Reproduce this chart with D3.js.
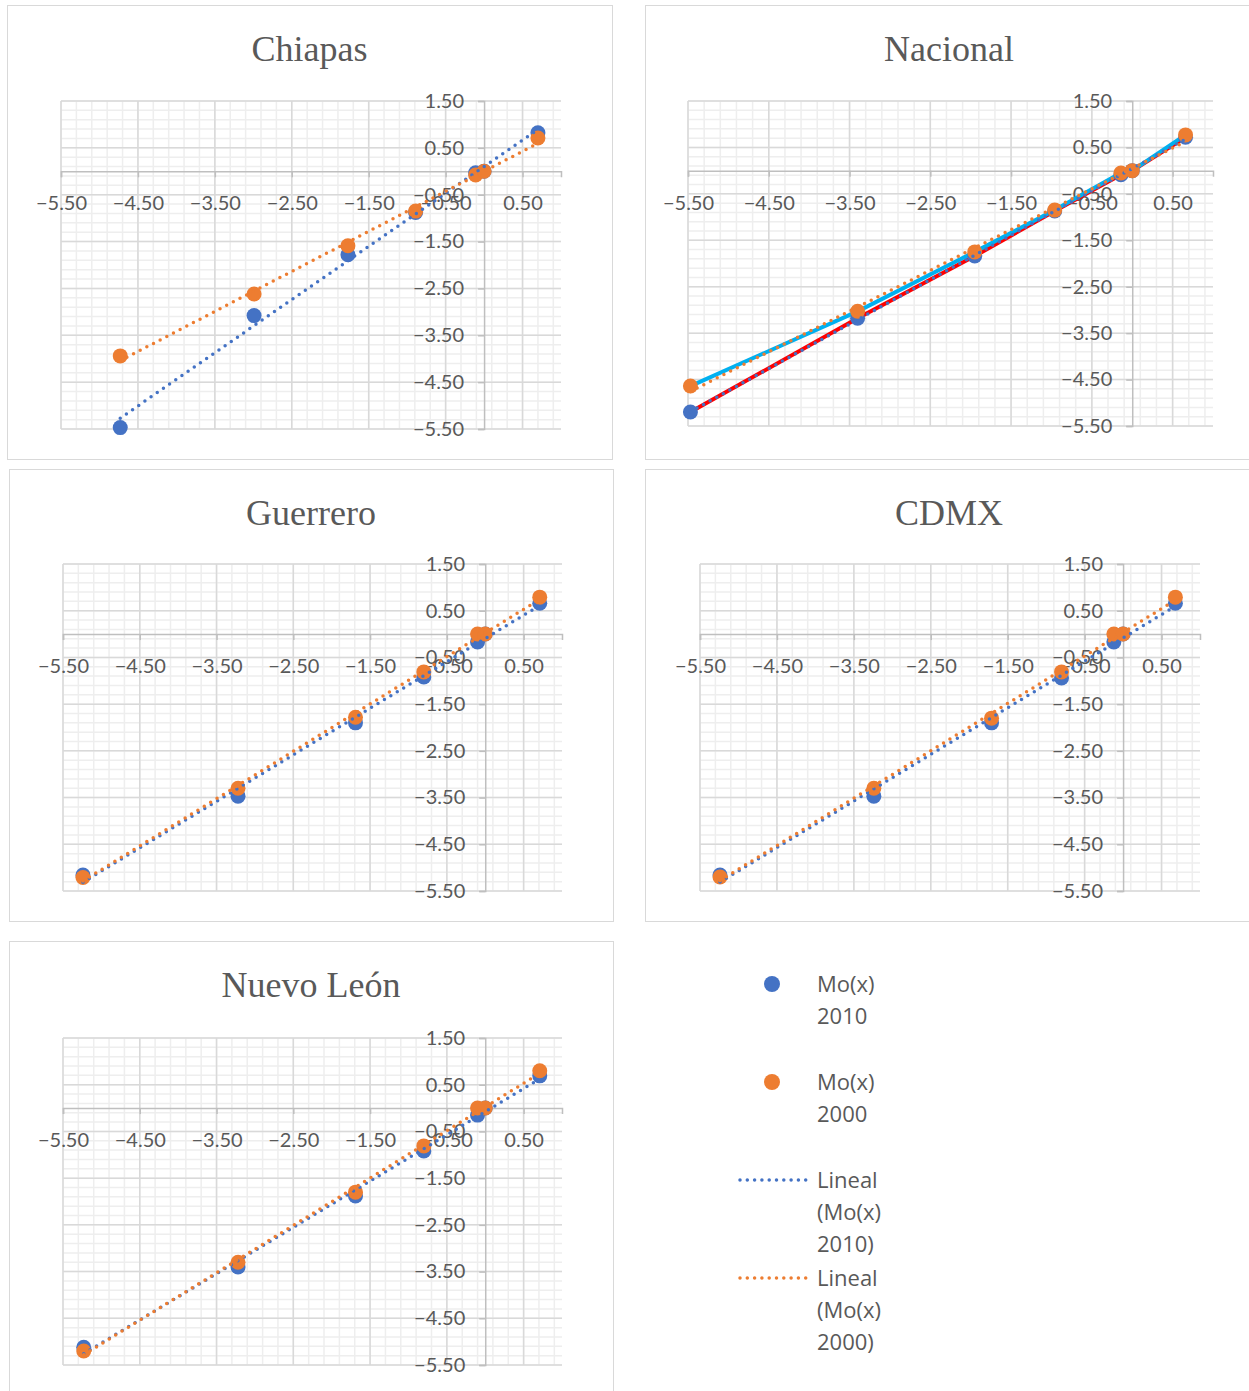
<!DOCTYPE html>
<html>
<head>
<meta charset="utf-8">
<script src="https://cdn.jsdelivr.net/npm/d3@7"></script>
<style>
  html, body { margin: 0; padding: 0; background: #fff; }
  svg { display: block; }
  .tick text { font-family: Lato, "Open Sans", sans-serif; fill: #595959; }
</style>
</head>
<body>
<svg id="chart" width="1249" height="1391"></svg>
<script>
// ---------- DATA ----------
const xTickValues = [-5.5, -4.5, -3.5, -2.5, -1.5, -0.5, 0.5];
const yTickValues = [1.5, 0.5, -0.5, -1.5, -2.5, -3.5, -4.5, -5.5];

const chiapasX    = [-4.73, -2.99, -1.77, -0.89, -0.11, 0.00, 0.70];
const chiapas2010 = [-5.47, -3.08, -1.78, -0.88, -0.03, 0.00, 0.82];
const chiapas2000 = [-3.94, -2.62, -1.59, -0.85, -0.08, 0.00, 0.71];

const nacionalX    = [-5.47, -3.40, -1.95, -0.96, -0.14, 0.00, 0.66];
const nacional2010 = [-5.20, -3.18, -1.84, -0.87, -0.09, 0.00, 0.72];
const nacional2000 = [-4.64, -3.03, -1.75, -0.85, -0.05, 0.00, 0.77];

const guerreroX    = [-5.24, -3.22, -1.69, -0.80, -0.10, 0.00, 0.71];
const guerrero2010 = [-5.16, -3.47, -1.90, -0.92, -0.17, 0.00, 0.66];
const guerrero2000 = [-5.21, -3.30, -1.78, -0.81, 0.00, 0.00, 0.79];

const cdmxX    = [-5.24, -3.24, -1.71, -0.80, -0.12, 0.00, 0.68];
const cdmx2010 = [-5.16, -3.47, -1.90, -0.94, -0.17, 0.00, 0.66];
const cdmx2000 = [-5.20, -3.30, -1.80, -0.81, 0.00, 0.00, 0.79];

const nuevoLeonX    = [-5.23, -3.22, -1.69, -0.80, -0.10, 0.00, 0.71];
const nuevoLeon2010 = [-5.12, -3.40, -1.88, -0.92, -0.15, 0.00, 0.69];
const nuevoLeon2000 = [-5.20, -3.30, -1.80, -0.81, 0.00, 0.00, 0.80];

const legendLabels = [["Mo(x)", "2010"], ["Mo(x)", "2000"], ["Lineal", "(Mo(x)", "2010)"], ["Lineal", "(Mo(x)", "2000)"]];

// ---------- LAYOUT ----------
const C2010 = "#4472C4", C2000 = "#ED7D31";
const panels = [
  { title: "Chiapas",    xs: chiapasX,   y10: chiapas2010,   y00: chiapas2000,   box: [7, 5, 605, 454],   plot: [61, 561, 101, 429] },
  { title: "Nacional",   xs: nacionalX,  y10: nacional2010,  y00: nacional2000,  box: [645, 5, 620, 454], plot: [688, 1213, 101, 426], extraLines: true },
  { title: "Guerrero",   xs: guerreroX,  y10: guerrero2010,  y00: guerrero2000,  box: [9, 469, 604, 452], plot: [63, 562, 564, 891] },
  { title: "CDMX",       xs: cdmxX,      y10: cdmx2010,      y00: cdmx2000,      box: [645, 469, 620, 452], plot: [700, 1200, 564, 891] },
  { title: "Nuevo León", xs: nuevoLeonX, y10: nuevoLeon2010, y00: nuevoLeon2000, box: [9, 941, 604, 470], plot: [63, 562, 1038, 1365] }
];

const svg = d3.select("#chart");

function linReg(xs, ys) {
  const mx = d3.mean(xs), my = d3.mean(ys);
  let sxy = 0, sxx = 0;
  xs.forEach((x, i) => { sxy += (x - mx) * (ys[i] - my); sxx += (x - mx) * (x - mx); });
  const b = sxy / sxx, a = my - b * mx;
  return x => a + b * x;
}

panels.forEach(p => {
  const [bx, by, bw, bh] = p.box;
  const [l, r, t, b] = p.plot;
  const g = svg.append("g");

  g.append("rect").attr("x", bx + 0.5).attr("y", by + 0.5).attr("width", bw).attr("height", bh)
    .attr("fill", "#fff").attr("stroke", "#D9D9D9").attr("stroke-width", 1);

  g.append("text").attr("x", bx + bw / 2 - (p.box[2] > 610 ? 6 : 0)).attr("y", by + 56)
    .attr("text-anchor", "middle").attr("font-family", "'Liberation Serif', 'Times New Roman', serif")
    .attr("font-size", 36).attr("fill", "#595959").text(p.title);

  const x = d3.scaleLinear().domain([-5.5, 1.0]).range([l, r]);
  const y = d3.scaleLinear().domain([-5.5, 1.5]).range([b, t]);

  // minor grid
  const minorX = d3.range(0, 33).map(i => -5.5 + i * 0.2);
  const minorY = d3.range(0, 36).map(i => -5.5 + i * 0.2);
  g.append("g").selectAll("line").data(minorX).join("line")
    .attr("x1", d => x(d)).attr("x2", d => x(d)).attr("y1", t).attr("y2", b)
    .attr("stroke", "#EEEEEE").attr("stroke-width", 1.5);
  g.append("g").selectAll("line").data(minorY).join("line")
    .attr("y1", d => y(d)).attr("y2", d => y(d)).attr("x1", l).attr("x2", r)
    .attr("stroke", "#EEEEEE").attr("stroke-width", 1.5);
  // major grid
  g.append("g").selectAll("line").data(xTickValues).join("line")
    .attr("x1", d => x(d)).attr("x2", d => x(d)).attr("y1", t).attr("y2", b)
    .attr("stroke", "#D9D9D9").attr("stroke-width", 1.5);
  g.append("g").selectAll("line").data(yTickValues).join("line")
    .attr("y1", d => y(d)).attr("y2", d => y(d)).attr("x1", l).attr("x2", r)
    .attr("stroke", "#D9D9D9").attr("stroke-width", 1.5);

  // axes through origin
  const fmt = d3.format(".2f");
  const xAxis = g.append("g").attr("transform", `translate(0,${y(0)})`)
    .call(d3.axisBottom(x).tickValues(xTickValues).tickFormat(fmt).tickSize(6).tickPadding(19));
  xAxis.select(".domain").attr("stroke", "#BFBFBF").attr("stroke-width", 1.5);
  xAxis.selectAll(".tick line").attr("stroke", "#BFBFBF").attr("stroke-width", 1.5);
  xAxis.selectAll(".tick text").attr("font-size", 20);

  const yAxis = g.append("g").attr("transform", `translate(${x(0)},0)`)
    .call(d3.axisLeft(y).tickValues(yTickValues).tickFormat(fmt).tickSize(6).tickPadding(14));
  yAxis.select(".domain").attr("stroke", "#BFBFBF").attr("stroke-width", 1.5);
  yAxis.selectAll(".tick line").attr("stroke", "#BFBFBF").attr("stroke-width", 1.5);
  yAxis.selectAll(".tick text").attr("font-size", 20);

  const pts10 = p.xs.map((v, i) => [v, p.y10[i]]);
  const pts00 = p.xs.map((v, i) => [v, p.y00[i]]);
  const line = d3.line().x(d => x(d[0])).y(d => y(d[1]));

  if (p.extraLines) {
    g.append("path").datum(pts10).attr("d", line).attr("fill", "none")
      .attr("stroke", "#FF0000").attr("stroke-width", 4);
    g.append("path").datum(pts00).attr("d", line).attr("fill", "none")
      .attr("stroke", "#00B0F0").attr("stroke-width", 4);
  }

  g.append("g").selectAll("circle").data(pts10).join("circle")
    .attr("cx", d => x(d[0])).attr("cy", d => y(d[1])).attr("r", 7.5).attr("fill", C2010);
  g.append("g").selectAll("circle").data(pts00).join("circle")
    .attr("cx", d => x(d[0])).attr("cy", d => y(d[1])).attr("r", 7.5).attr("fill", C2000);

  [[p.y10, C2010], [p.y00, C2000]].forEach(([ys, col]) => {
    const f = linReg(p.xs, ys);
    const x0 = d3.min(p.xs), x1 = d3.max(p.xs);
    g.append("line").attr("x1", x(x0)).attr("y1", y(f(x0))).attr("x2", x(x1)).attr("y2", y(f(x1)))
      .attr("stroke", col).attr("stroke-width", 3.5).attr("stroke-linecap", "round")
      .attr("stroke-dasharray", "0 7.5");
  });
});

// ---------- LEGEND ----------
const lg = svg.append("g").attr("font-family", "'Open Sans', sans-serif").attr("font-size", 22).attr("fill", "#595959");
const legendRows = [
  { kind: "dot", color: C2010, y: 984 },
  { kind: "dot", color: C2000, y: 1082 },
  { kind: "line", color: C2010, y: 1180 },
  { kind: "line", color: C2000, y: 1278 }
];
legendRows.forEach((row, i) => {
  if (row.kind === "dot") {
    lg.append("circle").attr("cx", 772).attr("cy", row.y).attr("r", 8).attr("fill", row.color);
  } else {
    lg.append("line").attr("x1", 740).attr("x2", 806).attr("y1", row.y).attr("y2", row.y)
      .attr("stroke", row.color).attr("stroke-width", 3.5).attr("stroke-linecap", "round").attr("stroke-dasharray", "0 7.3");
  }
  legendLabels[i].forEach((txt, j) => {
    lg.append("text").attr("x", 817).attr("y", row.y + j * 32).attr("dy", "0.35em").text(txt);
  });
});
</script>
</body>
</html>
